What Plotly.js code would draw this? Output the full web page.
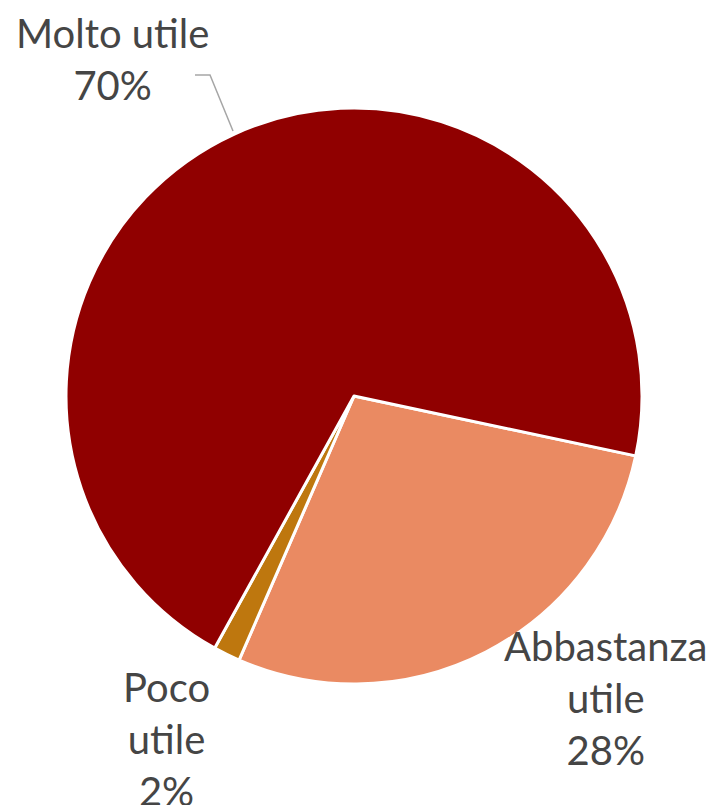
<!DOCTYPE html>
<html>
<head>
<meta charset="utf-8">
<script src="https://cdn.plot.ly/plotly-3.0.1.min.js"></script>
<style>html,body{margin:0;padding:0;background:#fff;}#chart{width:716px;height:805px;}</style>
</head>
<body>
<div id="chart"></div>
<script>
// Data (clockwise order starting at the right-hand boundary)
const categories = ["Abbastanza utile", "Poco utile", "Molto utile"];
const labelLines = ["Abbastanza<br>utile", "Poco<br>utile", "Molto utile"];
const values = [28.2, 1.5, 70.3];
const colors = ["#EA8A62", "#BE770E", "#900000"];

const W = 716, H = 805;
const px = x => x / W;
const py = y => 1 - y / H;

// label anchor positions in pixels (center of text block)
const labelPos = [
  {x: 606, y: 698},
  {x: 166, y: 739},
  {x: 112, y: 59}
];

const total = values.reduce((a, b) => a + b, 0);
const annotations = categories.map((c, i) => ({
  xref: "paper", yref: "paper",
  x: px(labelPos[i].x), y: py(labelPos[i].y),
  xanchor: "center", yanchor: "middle",
  text: labelLines[i] + "<br>" + Math.round(values[i] / total * 100) + "%",
  showarrow: false,
  align: "center",
  font: {family: "Lato, 'Open Sans', sans-serif", size: 40, color: "#454545"}
}));

const trace = {
  type: "pie",
  labels: categories,
  values: values,
  sort: false,
  direction: "clockwise",
  rotation: 102,
  textinfo: "none",
  hoverinfo: "label+percent",
  marker: {colors: colors, line: {color: "#FFFFFF", width: 3}},
  domain: {x: [px(66), px(642)], y: [py(684), py(108)]},
  showlegend: false
};

const layout = {
  width: W, height: H,
  margin: {l: 0, r: 0, t: 0, b: 0},
  paper_bgcolor: "#FFFFFF",
  showlegend: false,
  annotations: annotations,
  shapes: [{
    type: "path",
    xref: "paper", yref: "paper",
    path: "M " + px(195) + "," + py(75) + " L " + px(210) + "," + py(75) + " L " + px(233) + "," + py(131),
    line: {color: "#A6A6A6", width: 1.5}
  }]
};

Plotly.newPlot("chart", [trace], layout, {displayModeBar: false, staticPlot: true});
</script>
</body>
</html>
